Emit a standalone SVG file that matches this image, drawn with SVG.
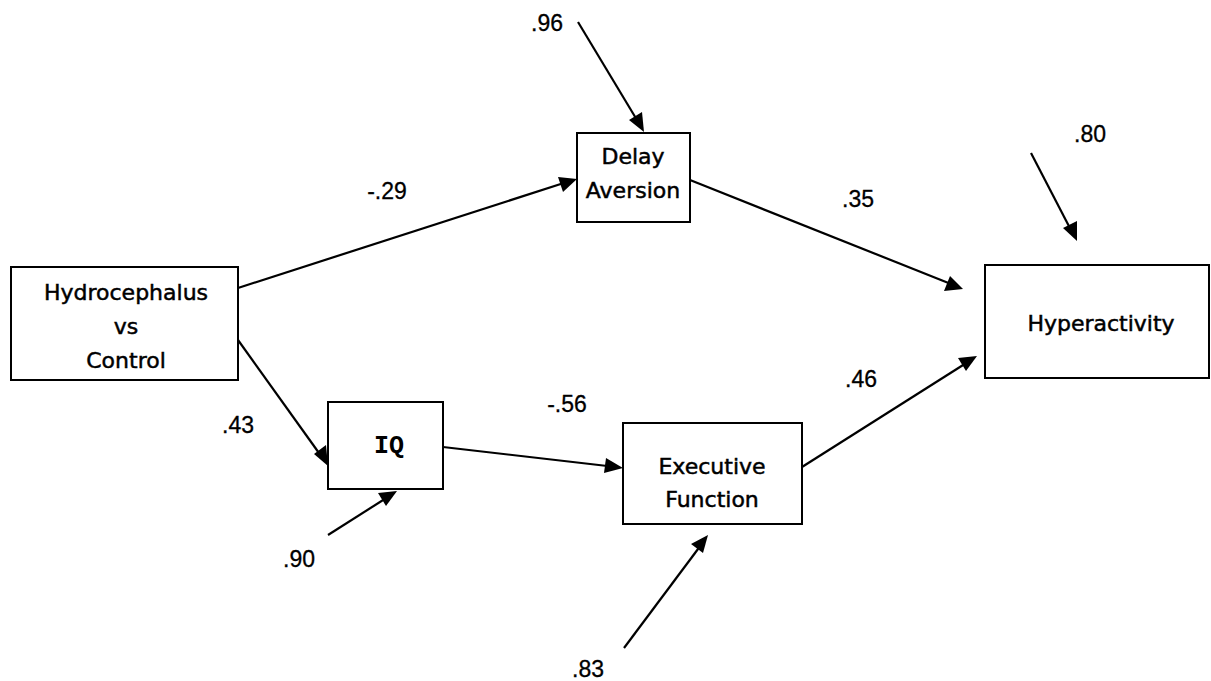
<svg xmlns="http://www.w3.org/2000/svg" width="1211" height="681" viewBox="0 0 1211 681">
<style>
.box{fill:#fff;stroke:#000;stroke-width:2}
.t{font-family:"DejaVu Sans","Open Sans",sans-serif;font-size:22px;text-anchor:middle;fill:#000;stroke:#000;stroke-width:0.5}
.iq{font-family:"Liberation Mono","DejaVu Sans Mono",monospace;font-weight:bold;font-size:25px;text-anchor:middle;fill:#000}
.lab{font-family:"Liberation Sans",Arial,sans-serif;font-size:23px;text-anchor:middle;fill:#000;stroke:#000;stroke-width:0.3}
.c{stroke:#000;stroke-width:2.2;fill:none}
.h{fill:#000}
</style>
<rect width="1211" height="681" fill="#fff"/>
<g id="connectors">
<line class="c" x1="238" y1="288" x2="570" y2="181"/>
<line class="c" x1="690" y1="180" x2="956" y2="286"/>
<line class="c" x1="238" y1="340" x2="324" y2="460"/>
<line class="c" x1="443" y1="447" x2="616" y2="467"/>
<line class="c" x1="802" y1="467" x2="971" y2="360"/>
<line class="c" x1="578" y1="22" x2="640" y2="125"/>
<line class="c" x1="1031" y1="153" x2="1073" y2="234"/>
<line class="c" x1="328" y1="535" x2="391" y2="495"/>
<line class="c" x1="624" y1="648" x2="704" y2="541"/>
<path class="h" d="M577,179 L558,177 L563,192 z"/>
<path class="h" d="M963,289 L944,291 L950,276 z"/>
<path class="h" d="M328,466 L314,454 L326,445 z"/>
<path class="h" d="M623,468 L604,473 L606,458 z"/>
<path class="h" d="M977,356 L966,371 L958,358 z"/>
<path class="h" d="M644,132 L629,120 L642,112 z"/>
<path class="h" d="M1077,241 L1063,228 L1077,221 z"/>
<path class="h" d="M397,491 L386,506 L378,493 z"/>
<path class="h" d="M708,535 L703,553 L691,544 z"/>
</g>
<g id="hydro">
<rect class="box" x="11" y="267" width="227" height="113"/>
<text class="t" x="126" y="300">Hydrocephalus</text>
<text class="t" x="126" y="334">vs</text>
<text class="t" x="126" y="368">Control</text>
</g>
<g id="delay">
<rect class="box" x="577" y="133" width="113" height="89"/>
<text class="t" x="633" y="164">Delay</text>
<text class="t" x="633" y="198">Aversion</text>
</g>
<g id="hyper">
<rect class="box" x="985" y="265" width="224" height="113"/>
<text class="t" x="1101" y="331">Hyperactivity</text>
</g>
<g id="iq">
<rect class="box" x="328" y="402" width="115" height="87"/>
<text class="iq" x="389" y="453">IQ</text>
</g>
<g id="ef">
<rect class="box" x="623" y="423" width="179" height="101"/>
<text class="t" x="712" y="474">Executive</text>
<text class="t" x="712" y="507">Function</text>
</g>
<g id="labels">
<text class="lab" x="547" y="31">.96</text>
<text class="lab" x="1090" y="142">.80</text>
<text class="lab" x="387" y="199">-.29</text>
<text class="lab" x="858" y="207">.35</text>
<text class="lab" x="238" y="433">.43</text>
<text class="lab" x="567" y="412">-.56</text>
<text class="lab" x="861" y="387">.46</text>
<text class="lab" x="299" y="567">.90</text>
<text class="lab" x="588" y="677">.83</text>
</g>
</svg>
